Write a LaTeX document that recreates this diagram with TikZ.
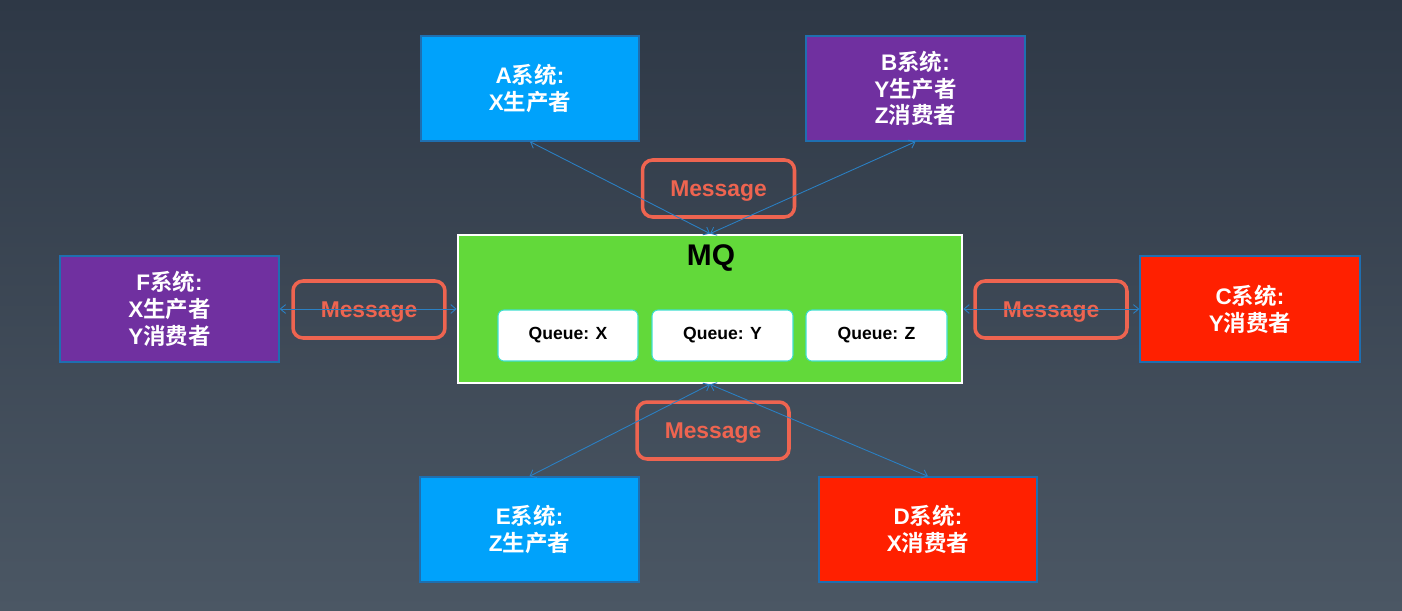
\documentclass[tikz,border=0pt]{standalone}
\usepackage{fontspec}
\setmainfont{Liberation Sans}
\newfontfamily\cjk{Noto Sans CJK SC}[BoldFont={Noto Sans CJK SC Bold}]
\usetikzlibrary{arrows.meta}
\definecolor{bgtop}{HTML}{2E3846}
\definecolor{bgbot}{HTML}{4B5764}
\definecolor{sysblue}{HTML}{00A2FB}
\definecolor{syspurple}{HTML}{7030A0}
\definecolor{sysred}{HTML}{FF2000}
\definecolor{sysedge}{HTML}{1F6FB0}
\definecolor{mqgreen}{HTML}{62D93A}
\definecolor{msgred}{HTML}{EE6450}
\definecolor{qedge}{HTML}{40E0D0}
\definecolor{linkblue}{HTML}{2A80C4}
\tikzset{
  sysbox/.style={draw=sysedge, line width=0.8pt, inner sep=0pt, minimum height=2.1cm, text=white, align=center,
    font=\fontsize{12.8}{15.2}\selectfont\bfseries},
  msgbox/.style={draw=msgred, line width=2pt, rounded corners=0.2cm, inner sep=0pt, minimum width=3.04cm, minimum height=1.14cm,
    text=msgred, text depth=0pt, font=\fontsize{13}{15}\selectfont\bfseries},
  qbox/.style={draw=qedge, fill=white, line width=0.6pt, rounded corners=0.12cm, inner sep=0pt, minimum height=1.02cm,
    font=\fontsize{10}{12}\selectfont\bfseries},
  link/.style={draw=linkblue, line width=0.5pt, {Straight Barb[length=3pt,width=5pt]}-{Straight Barb[length=3pt,width=5pt]}},
}
\begin{document}
\begin{tikzpicture}[x=0.02cm, y=-0.02cm]
\shade[top color=bgtop, bottom color=bgbot] (0,0) rectangle (1402,611);
\useasboundingbox (0,0) rectangle (1402,611);
% systems
\node[sysbox, fill=sysblue, minimum width=4.36cm] (a) at (530,88.5) {A{\cjk\bfseries 系统}:\\X{\cjk\bfseries 生产者}};
\node[sysbox, fill=syspurple, minimum width=4.38cm] (b) at (915.5,88.5) {B{\cjk\bfseries 系统}:\\Y{\cjk\bfseries 生产者}\\Z{\cjk\bfseries 消费者}};
\node[sysbox, fill=syspurple, minimum width=4.38cm, minimum height=2.12cm] (f) at (169.5,309) {F{\cjk\bfseries 系统}:\\X{\cjk\bfseries 生产者}\\Y{\cjk\bfseries 消费者}};
\node[sysbox, fill=sysred, minimum width=4.4cm, minimum height=2.12cm] (c) at (1250,309) {C{\cjk\bfseries 系统}:\\Y{\cjk\bfseries 消费者}};
\node[sysbox, fill=sysblue, minimum width=4.38cm] (e) at (529.5,529.5) {E{\cjk\bfseries 系统}:\\Z{\cjk\bfseries 生产者}};
\node[sysbox, fill=sysred, minimum width=4.36cm] (d) at (928,529.5) {D{\cjk\bfseries 系统}:\\X{\cjk\bfseries 消费者}};
% MQ
\node[draw=white, fill=mqgreen, line width=1.6pt, inner sep=0pt, minimum width=10.08cm, minimum height=2.96cm] (mq) at (710,309) {};
\node[font=\fontsize{17}{20}\selectfont\bfseries, text=black] (mqlabel) at (711,258) {MQ};
\node[qbox, minimum width=2.8cm] (qx) at (568,335.5) {Queue: X};
\node[qbox, minimum width=2.82cm] (qy) at (722.5,335.5) {Queue: Y};
\node[qbox, minimum width=2.82cm] (qz) at (876.5,335.5) {Queue: Z};
% messages
\node[msgbox] (m1) at (718.5,188.5) {Message};
\node[msgbox] (m2) at (369,309.5) {Message};
\node[msgbox] (m3) at (1051,309.5) {Message};
\node[msgbox] (m4) at (713,430.5) {Message};
% links
\draw[link] (mq.north) -- (a.south);
\draw[link] (mq.north) -- (b.south);
\draw[link] (mq.west) -- (f.east);
\draw[link] (mq.east) -- (c.west);
\draw[link] (mq.south) -- (e.north);
\draw[link] (mq.south) -- (d.north);
\end{tikzpicture}
\end{document}
